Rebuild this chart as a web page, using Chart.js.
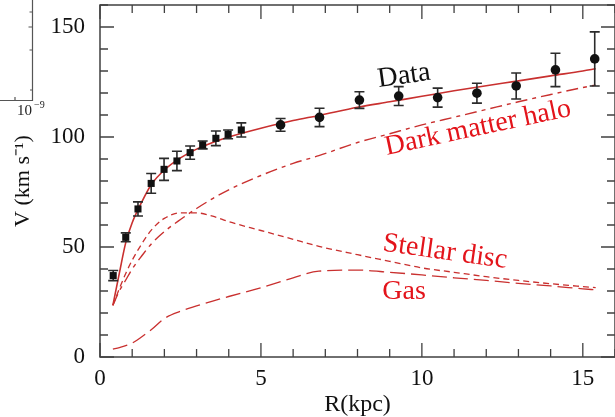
<!DOCTYPE html>
<html>
<head>
<meta charset="utf-8">
<script src="https://cdn.jsdelivr.net/npm/chart.js@4.4.0/dist/chart.umd.min.js"></script>
<style>
  html, body { margin: 0; padding: 0; background: #fff; overflow: hidden; }
  #wrap { width: 620px; height: 417px; }
</style>
</head>
<body>
<div id="wrap"><canvas id="rotCurve" width="620" height="417"></canvas></div>
<script>
  // Observed rotation curve
  const obsR   = [0.41, 0.80, 1.18, 1.59, 1.99, 2.39, 2.80, 3.19, 3.60, 3.98, 4.39,
                  5.61, 6.82, 8.06, 9.28, 10.49, 11.71, 12.93, 14.15, 15.37];
  const obsV   = [37.0, 54.4, 67.3, 78.9, 85.3, 89.1, 92.9, 96.4, 99.4, 101.2, 103.2,
                  105.5, 108.9, 116.8, 118.6, 117.9, 119.9, 123.2, 130.5, 135.5];
  const obsErr = [2.3, 2.0, 3.2, 4.5, 5.0, 4.4, 3.0, 1.8, 3.3, 2.0, 3.2,
                  2.9, 4.2, 3.8, 4.3, 4.3, 4.5, 5.9, 7.6, 12.3];

  // Mass model components
  const modelR = [0.4, 0.6, 0.8, 1.0, 1.3, 1.6, 2.0, 2.5, 3.0, 3.5, 4.0, 5.0, 6.0, 6.8,
                  8.0, 9.0, 10.0, 11.0, 12.0, 13.0, 14.0, 15.0, 15.4];
  const totalV = [23.5, 38, 52, 61, 70.5, 78.5, 85, 90.5, 94.5, 97.5, 100, 104, 107.5, 109.8,
                  113.5, 116, 118.5, 121, 123.3, 125.5, 127.8, 130, 131];
  const haloV  = [23.5, 30, 35, 40, 46, 51.5, 57, 62.5, 67.5, 72, 76, 82.5, 88, 91.5,
                  97.5, 101.5, 105.5, 109, 112.5, 116, 119.3, 122.5, 123.6];
  const discV  = [23.5, 31, 38, 44, 51.5, 57.8, 63, 65.5, 65.5, 64, 61.5, 57.5, 53.5, 50.3,
                  46.5, 43.5, 40.5, 38.5, 36.5, 34.8, 33.3, 32, 31.5];
  const gasV   = [3.6, 4.3, 5.2, 6.3, 9.2, 12.5, 17.5, 20.8, 23.2, 25.4, 27.5, 31.5, 36, 39,
                  39.5, 38.5, 37.3, 36, 34.8, 33.5, 32.3, 31, 30.5];

  const xRange = [0, 16];
  const yRange = [0, 160];
  const xStep = 5, xMinor = 1;
  const yStep = 50, yMinor = 10;

  const lineRed = '#c9302f';
  const textRed = '#e3141b';
  const axisGrey = '#404040';
  const serif = "'Liberation Serif', 'Times New Roman', serif";

  const pairs = (xs, ys) => xs.map((x, i) => ({ x: x, y: ys[i] }));

  const modelLine = (label, ys, dash, width) => ({
    label: label,
    data: pairs(modelR, ys),
    borderColor: lineRed,
    borderWidth: width,
    borderDash: dash,
    pointRadius: 0,
    fill: false,
    tension: 0.4,
    cubicInterpolationMode: 'monotone',
    order: 1
  });

  // no extra room around the axes for half-labels
  const noPad = scale => {
    scale.paddingTop = 0;
    scale.paddingBottom = 0;
    scale.paddingLeft = 0;
    scale.paddingRight = 0;
  };

  // inward ticks on all four sides, plus the box
  const frame = {
    id: 'frame',
    afterDatasetsDraw(chart) {
      const { ctx, chartArea: { top, bottom, left, right }, scales: { x, y } } = chart;
      ctx.save();
      ctx.strokeStyle = axisGrey;
      ctx.lineWidth = 1.5;
      ctx.strokeRect(left, top, right - left, bottom - top);
      ctx.lineWidth = 1.3;
      ctx.beginPath();
      for (let v = x.min; v <= x.max; v += xMinor) {
        const px = x.getPixelForValue(v);
        const len = v % xStep === 0 ? 14 : 8;
        ctx.moveTo(px, bottom); ctx.lineTo(px, bottom - len);
        ctx.moveTo(px, top); ctx.lineTo(px, top + len);
      }
      for (let v = y.min; v <= y.max; v += yMinor) {
        const py = y.getPixelForValue(v);
        const len = v % yStep === 0 ? 14 : 8;
        ctx.moveTo(left, py); ctx.lineTo(left + len, py);
        ctx.moveTo(right, py); ctx.lineTo(right - len, py);
      }
      ctx.stroke();
      ctx.restore();
    }
  };

  // error bars go under the data markers
  const errorBars = {
    id: 'errorBars',
    beforeDatasetDraw(chart, args) {
      if (args.index !== 0) return;
      const { ctx, scales: { x, y } } = chart;
      ctx.save();
      ctx.strokeStyle = '#2b2b2b';
      ctx.lineWidth = 1.6;
      ctx.beginPath();
      obsR.forEach((r, i) => {
        const px = x.getPixelForValue(r);
        const y1 = y.getPixelForValue(obsV[i] - obsErr[i]);
        const y2 = y.getPixelForValue(obsV[i] + obsErr[i]);
        ctx.moveTo(px, y1); ctx.lineTo(px, y2);
        ctx.moveTo(px - 5, y1); ctx.lineTo(px + 5, y1);
        ctx.moveTo(px - 5, y2); ctx.lineTo(px + 5, y2);
      });
      ctx.stroke();
      ctx.restore();
    }
  };

  // curve labels written along the lines
  const curveLabels = {
    id: 'curveLabels',
    afterDraw(chart) {
      const { ctx } = chart;
      const put = (text, cx, cy, deg, color) => {
        ctx.save();
        ctx.translate(cx, cy);
        ctx.rotate(deg * Math.PI / 180);
        ctx.font = '28px ' + serif;
        ctx.fillStyle = color;
        ctx.textAlign = 'center';
        ctx.textBaseline = 'middle';
        ctx.fillText(text, 0, 0);
        ctx.restore();
      };
      put('Data', 404, 76, -8, '#111');
      put('Dark matter halo', 478, 128, -12, textRed);
      put('Stellar disc', 445, 252, 8, textRed);
      put('Gas', 404, 292, 0, textRed);
    }
  };

  // corner of the neighbouring panel on the left
  const sidePanel = {
    id: 'sidePanel',
    afterDraw(chart) {
      const { ctx } = chart;
      ctx.save();
      ctx.strokeStyle = '#555';
      ctx.lineWidth = 1.2;
      ctx.beginPath();
      ctx.moveTo(32.5, 0); ctx.lineTo(32.5, 100.5); ctx.lineTo(0, 100.5);
      [[12, 3], [27, 4], [50, 3], [90, 2.5]].forEach(([ty, len]) => {
        ctx.moveTo(32.5, ty); ctx.lineTo(32.5 - len, ty);
      });
      ctx.moveTo(15, 100.5); ctx.lineTo(15, 97);
      ctx.stroke();
      ctx.fillStyle = '#222';
      ctx.textBaseline = 'alphabetic';
      ctx.font = '15px ' + serif;
      ctx.fillText('10', 17, 115);
      ctx.font = '10px ' + serif;
      ctx.fillText('\u22129', 34, 108);
      ctx.restore();
    }
  };

  const config = {
    type: 'line',
    data: {
      datasets: [
        {
          label: 'Data',
          data: pairs(obsR, obsV),
          showLine: false,
          pointStyle: c => (c.raw && c.raw.x < 5 ? 'rect' : 'circle'),
          pointRadius: c => (c.raw && c.raw.x < 5 ? 5 : 4.8),
          backgroundColor: '#111',
          borderColor: '#111',
          borderWidth: 0,
          order: 0
        },
        modelLine('Total', totalV, [], 1.6),
        modelLine('Dark matter halo', haloV, [12, 5, 4, 5], 1.4),
        modelLine('Stellar disc', discV, [6, 4], 1.3),
        modelLine('Gas', gasV, [15, 6], 1.3)
      ]
    },
    options: {
      responsive: false,
      animation: false,
      layout: { padding: { top: 5, right: 3, left: 0, bottom: 0 } },
      plugins: {
        legend: { display: false },
        tooltip: { enabled: false }
      },
      scales: {
        x: {
          type: 'linear',
          min: xRange[0],
          max: xRange[1],
          afterFit(scale) { scale.height = 60; noPad(scale); },
          grid: { display: false, drawTicks: false },
          border: { display: false },
          ticks: {
            stepSize: xStep,
            includeBounds: false,
            maxRotation: 0,
            padding: 8,
            color: '#111',
            font: { family: serif, size: 23 }
          },
          title: {
            display: true,
            text: 'R(kpc)',
            color: '#111',
            padding: 0,
            font: { family: serif, size: 24, lineHeight: 1.0 }
          }
        },
        y: {
          type: 'linear',
          min: yRange[0],
          max: yRange[1],
          afterFit(scale) { scale.width = 100; noPad(scale); },
          grid: { display: false, drawTicks: false },
          border: { display: false },
          ticks: {
            stepSize: yStep,
            includeBounds: false,
            padding: 15,
            color: '#111',
            font: { family: serif, size: 23 }
          },
          title: {
            display: true,
            text: 'V (km s\u207B\u00B9)',
            color: '#111',
            padding: { top: 12, bottom: 0 },
            font: { family: serif, size: 22, lineHeight: 1.0 }
          }
        }
      }
    },
    plugins: [errorBars, frame, curveLabels, sidePanel]
  };

  const rotChart = new Chart(document.getElementById('rotCurve'), config);
</script>
</body>
</html>
